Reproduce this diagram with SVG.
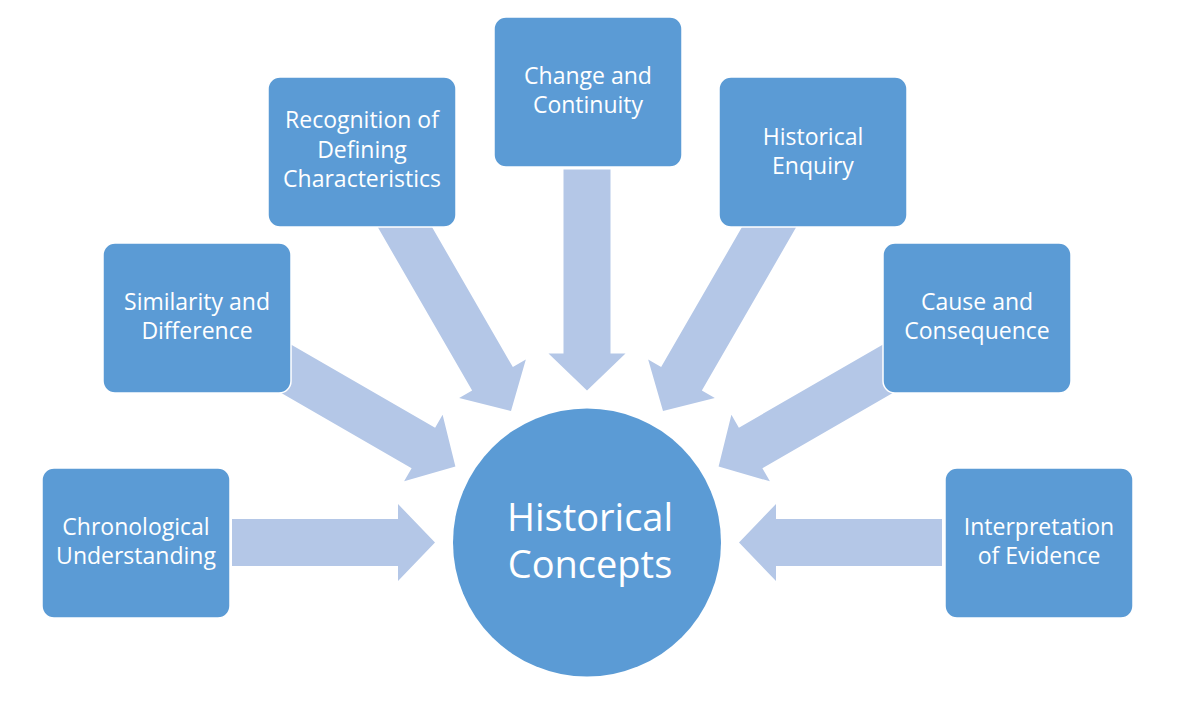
<svg xmlns="http://www.w3.org/2000/svg" width="1200" height="702" viewBox="0 0 1200 702">
<style>
.arrow{fill:#B4C7E7;}
.box{fill:#5B9BD5;stroke:#FFFFFF;stroke-width:1.5;}
.t{font-family:"Open Sans","Liberation Sans",sans-serif;font-size:23px;fill:#FFFFFF;text-anchor:middle;}
.c{font-family:"Open Sans","Liberation Sans",sans-serif;font-size:38px;fill:#FFFFFF;text-anchor:middle;}
</style>
<rect width="1200" height="702" fill="#FFFFFF"/>
<g id="connectors">
<polygon class="arrow" transform="translate(435,542.5)" points="-203,-23.5 -37,-23.5 -37,-38.5 0,0 -37,38.5 -37,23.5 -203,23.5"/>
<polygon class="arrow" transform="translate(455.4,466.5) rotate(30)" points="-240,-23.5 -37,-23.5 -37,-38.5 0,0 -37,38.5 -37,23.5 -240,23.5"/>
<polygon class="arrow" transform="translate(511,410.9) rotate(60)" points="-240,-23.5 -37,-23.5 -37,-38.5 0,0 -37,38.5 -37,23.5 -240,23.5"/>
<polygon class="arrow" transform="translate(587,390.5) rotate(90)" points="-221,-23.5 -37,-23.5 -37,-38.5 0,0 -37,38.5 -37,23.5 -221,23.5"/>
<polygon class="arrow" transform="translate(663,410.9) rotate(120)" points="-240,-23.5 -37,-23.5 -37,-38.5 0,0 -37,38.5 -37,23.5 -240,23.5"/>
<polygon class="arrow" transform="translate(718.6,466.5) rotate(150)" points="-240,-23.5 -37,-23.5 -37,-38.5 0,0 -37,38.5 -37,23.5 -240,23.5"/>
<polygon class="arrow" transform="translate(739,542.5) rotate(180)" points="-203,-23.5 -37,-23.5 -37,-38.5 0,0 -37,38.5 -37,23.5 -203,23.5"/>
</g>
<g id="center">
<circle cx="587" cy="542.5" r="134" fill="#5B9BD5"/>
<text class="c" x="590" y="531">Historical</text>
<text class="c" x="590" y="578">Concepts</text>
</g>
<g id="chronological">
<rect class="box" x="42" y="468" width="188" height="150" rx="12"/>
<text class="t" x="136" y="535">Chronological</text>
<text class="t" x="136" y="564">Understanding</text>
</g>
<g id="similarity">
<rect class="box" x="103" y="243" width="188" height="150" rx="12"/>
<text class="t" x="197" y="310">Similarity and</text>
<text class="t" x="197" y="339">Difference</text>
</g>
<g id="recognition">
<rect class="box" x="268" y="77" width="188" height="150" rx="12"/>
<text class="t" x="362" y="128">Recognition of</text>
<text class="t" x="362" y="158">Defining</text>
<text class="t" x="362" y="187">Characteristics</text>
</g>
<g id="change">
<rect class="box" x="494" y="17" width="188" height="150" rx="12"/>
<text class="t" x="588" y="84">Change and</text>
<text class="t" x="588" y="113">Continuity</text>
</g>
<g id="enquiry">
<rect class="box" x="719" y="77" width="188" height="150" rx="12"/>
<text class="t" x="813" y="145">Historical</text>
<text class="t" x="813" y="174">Enquiry</text>
</g>
<g id="cause">
<rect class="box" x="883" y="243" width="188" height="150" rx="12"/>
<text class="t" x="977" y="310">Cause and</text>
<text class="t" x="977" y="339">Consequence</text>
</g>
<g id="interpretation">
<rect class="box" x="945" y="468" width="188" height="150" rx="12"/>
<text class="t" x="1039" y="535">Interpretation</text>
<text class="t" x="1039" y="564">of Evidence</text>
</g>
</svg>
